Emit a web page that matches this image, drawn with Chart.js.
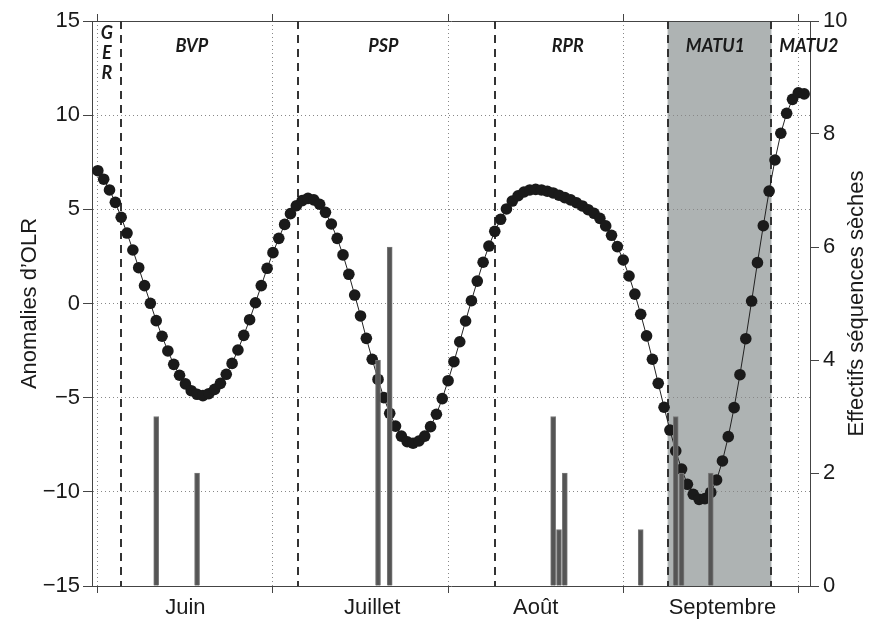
<!DOCTYPE html>
<html>
<head>
<meta charset="utf-8">
<script src="https://cdn.jsdelivr.net/npm/chart.js@4"></script>
<style>
  body { margin: 0; background: #fff; }
</style>
</head>
<body>
<canvas id="myChart" width="875" height="623"></canvas>
<script>
// OLR anomalies, one value per day from 1 June (day 0) to 30 Sept (day 121)
const olr = [
  7.05, 6.60, 6.03, 5.37, 4.58, 3.74, 2.84, 1.90, 0.95, 0.01,
  -0.91, -1.74, -2.52, -3.23, -3.81, -4.27, -4.63, -4.82, -4.89, -4.79,
  -4.56, -4.24, -3.76, -3.18, -2.47, -1.69, -0.86, 0.04, 0.95, 1.87,
  2.70, 3.46, 4.20, 4.77, 5.19, 5.46, 5.58, 5.50, 5.27, 4.84,
  4.22, 3.46, 2.58, 1.55, 0.45, -0.66, -1.85, -2.96, -4.03, -5.00,
  -5.83, -6.51, -7.04, -7.34, -7.42, -7.30, -7.04, -6.54, -5.88, -5.05,
  -4.10, -3.09, -2.03, -0.93, 0.15, 1.19, 2.19, 3.05, 3.83, 4.47,
  5.02, 5.44, 5.72, 5.92, 6.03, 6.06, 6.03, 5.96, 5.87, 5.75,
  5.62, 5.50, 5.35, 5.18, 4.98, 4.79, 4.52, 4.12, 3.62, 3.02,
  2.31, 1.46, 0.50, -0.57, -1.72, -2.96, -4.24, -5.51, -6.72, -7.83,
  -8.79, -9.60, -10.13, -10.40, -10.36, -10.03, -9.37, -8.36, -7.07, -5.53,
  -3.78, -1.87, 0.13, 2.17, 4.13, 5.97, 7.62, 9.04, 10.10, 10.84,
  11.19, 11.13
];
// dry spells count (right axis)
const barDays = [10, 17, 48, 50, 78, 79, 80, 93, 99, 100, 105];
const barCounts = [3, 2, 4, 6, 3, 1, 2, 1, 3, 2, 2];

const months = ['Juin', 'Juillet', 'Août', 'Septembre'];
const monthLabelDays = [15, 47, 75, 107];
const monthTicks = [0, 30, 60, 90, 120];

const phaseBounds = [3.9, 34.3, 68.1, 97.6, 115.4];
const phaseNames = ['BVP', 'PSP', 'RPR', 'MATU1', 'MATU2'];
const phaseNameDays = [16.1, 48.9, 80.5, 105.8, 121.8];

const TXT = '#1a1a1a';
const AXIS = '#444';
const FONT = 'Liberation Sans';

const olrPoints = olr.map((v, i) => ({x: i, y: v}));
const barPoints = barDays.map((d, i) => ({x: d, y: barCounts[i]}));

const phases = {
  id: 'phases',
  beforeDraw(chart) {
    const {ctx, chartArea: a, scales: {x}} = chart;
    const x1 = x.getPixelForValue(phaseBounds[3]);
    const x2 = x.getPixelForValue(phaseBounds[4]);
    ctx.save();
    ctx.fillStyle = '#aeb3b3';
    ctx.fillRect(x1, a.top, x2 - x1, a.bottom - a.top);
    ctx.restore();
  },
  beforeDatasetsDraw(chart) {
    const {ctx, chartArea: a, scales: {x}} = chart;
    ctx.save();
    ctx.strokeStyle = '#333';
    ctx.lineWidth = 2;
    ctx.setLineDash([8, 6]);
    phaseBounds.forEach(d => {
      const px = Math.round(x.getPixelForValue(d));
      ctx.beginPath();
      ctx.moveTo(px, a.top);
      ctx.lineTo(px, a.bottom);
      ctx.stroke();
    });
    ctx.setLineDash([]);
    ctx.fillStyle = '#1a1a1a';
    ctx.font = 'italic bold 18px Lato';
    ctx.textAlign = 'center';
    ctx.textBaseline = 'middle';
    phaseNames.forEach((n, i) => {
      ctx.fillText(n, x.getPixelForValue(phaseNameDays[i]), 46);
    });
    ['G', 'E', 'R'].forEach((c, i) => {
      ctx.fillText(c, x.getPixelForValue(1.55), 33 + i * 20);
    });
    ctx.restore();
  },
  afterDraw(chart) {
    const {ctx, chartArea: a} = chart;
    ctx.save();
    ctx.translate(857, (a.top + a.bottom) / 2);
    ctx.rotate(-Math.PI / 2);
    ctx.fillStyle = TXT;
    ctx.font = '22px "' + FONT + '"';
    ctx.textAlign = 'center';
    ctx.textBaseline = 'middle';
    ctx.fillText('Effectifs séquences sèches', 0, 0);
    ctx.restore();
  }
};

function setTicks(scale) {
  scale.ticks = monthTicks.concat(monthLabelDays).sort((a, b) => a - b).map(v => ({value: v}));
}
const onBoundary = c => c.tick && monthTicks.includes(c.tick.value);

new Chart('myChart', {
  type: 'line',
  data: {
    datasets: [{
      type: 'bar',
      label: 'Effectifs',
      data: barPoints,
      yAxisID: 'y1',
      backgroundColor: '#555',
      borderColor: '#7a7a7a',
      borderWidth: 1,
      barThickness: 5,
      order: 0
    }, {
      type: 'line',
      label: 'OLR',
      data: olrPoints,
      yAxisID: 'y',
      borderColor: '#222',
      borderWidth: 1,
      pointRadius: 5.8,
      pointBackgroundColor: '#1a1a1a',
      pointBorderWidth: 0,
      tension: 0,
      order: 1
    }]
  },
  options: {
    responsive: false,
    devicePixelRatio: 1,
    animation: false,
    layout: {padding: 0},
    plugins: {legend: {display: false}, tooltip: {enabled: false}},
    scales: {
      x: {
        type: 'linear',
        position: 'bottom',
        min: -1,
        max: 122,
        offset: false,
        afterBuildTicks: setTicks,
        afterFit: s => { s.height = 37; },
        ticks: {
          autoSkip: false,
          maxRotation: 0,
          padding: 2,
          color: TXT,
          font: {family: FONT, size: 22},
          callback: v => {
            const i = monthLabelDays.indexOf(v);
            return i >= 0 ? months[i] : '';
          }
        },
        grid: {
          offset: false,
          color: c => onBoundary(c) ? '#888' : 'rgba(0,0,0,0)',
          tickColor: c => onBoundary(c) ? AXIS : 'rgba(0,0,0,0)',
          tickLength: 7,
          tickBorderDash: []
        },
        border: {color: AXIS, width: 1, dash: [1, 3]}
      },
      x2: {
        type: 'linear',
        position: 'top',
        min: -1,
        max: 122,
        offset: false,
        afterBuildTicks: s => { s.ticks = monthTicks.map(v => ({value: v})); },
        afterFit: s => { s.height = 21; },
        ticks: {display: false},
        grid: {drawOnChartArea: false, tickLength: 7, tickColor: AXIS, offset: false},
        border: {color: AXIS, width: 1}
      },
      y: {
        position: 'left',
        min: -15,
        max: 15,
        afterFit: s => { s.width = 92; },
        ticks: {
          stepSize: 5,
          padding: 3,
          color: TXT,
          font: {family: FONT, size: 22},
          callback: v => String(v).replace('-', '\u2212')
        },
        grid: {
          color: c => (c.tick && Math.abs(c.tick.value) === 15) ? 'rgba(0,0,0,0)' : '#888',
          tickColor: AXIS,
          tickLength: 9,
          tickBorderDash: []
        },
        border: {color: AXIS, width: 1, dash: [1, 3]},
        title: {
          display: true,
          text: 'Anomalies d\u2019OLR',
          color: TXT,
          font: {family: FONT, size: 22},
          padding: {top: 17, bottom: 0}
        }
      },
      y1: {
        position: 'right',
        min: 0,
        max: 10,
        afterFit: s => { s.width = 65; },
        ticks: {
          stepSize: 2,
          padding: 4,
          color: TXT,
          font: {family: FONT, size: 22}
        },
        grid: {drawOnChartArea: false, tickColor: AXIS, tickLength: 9},
        border: {color: AXIS, width: 1}
      }
    }
  },
  plugins: [phases]
});
</script>
</body>
</html>
